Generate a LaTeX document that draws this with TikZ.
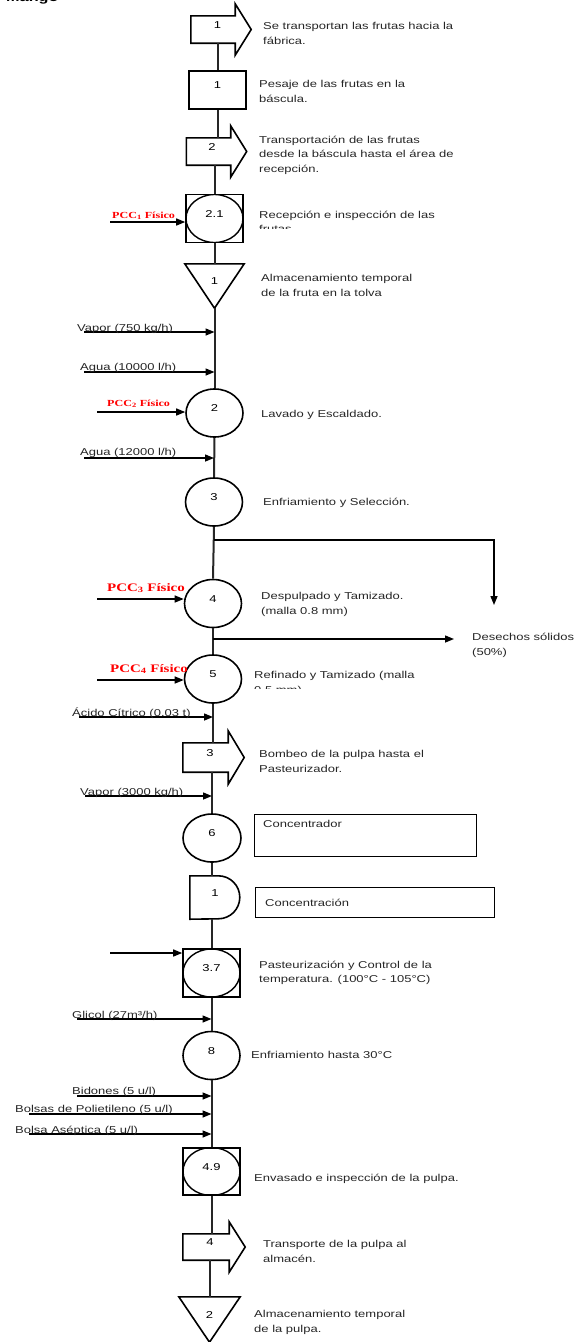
\documentclass[tikz,border=0pt]{standalone}
\usepackage{fontspec}
\setmainfont{Liberation Sans}[FakeStretch=1.3]
\newfontfamily\pccfont{Liberation Serif}[FakeStretch=1.3]
\usetikzlibrary{arrows.meta,shapes.geometric,calc}
\tikzset{
FLOW/.style ={draw=black!85,line width=2pt},
SHP/.style ={draw=black,line join=miter,line width=1.6pt},
INPUT/.style ={draw=black,line width=1.4pt,-{Triangle[length=9pt,width=7pt]}},
TXT/.style={anchor=north west,align=left,inner sep=0,yshift=-2pt,text=black!85},
INLBL/.style={anchor=base west,inner sep=0,text=black!85},
PCC/.style={anchor=base west,inner sep=0,text=red,font=\pccfont\bfseries\fontsize{#1}{#1}\selectfont},
NUM/.style={text height=7pt,text depth=10pt,inner sep=0},
OPER/.style={NUM,ellipse,SHP,minimum width=57pt,minimum height=48pt},
INSP/.style={NUM,rectangle,SHP,minimum width=57pt,minimum height=48pt,
  path picture={\draw[line width=1.4pt] (path picture bounding box.center) ellipse [x radius=28.5pt,y radius=24pt];}},
BODY/.style={NUM,rectangle,minimum width=44pt,minimum height=27pt},
STORE/.style={NUM,rectangle,minimum width=59pt,minimum height=44pt},
}
% transporte (flecha) y demora (D)
\newcommand{\transarrow}[1]{%
  \draw[SHP] (#1.north west) -- (#1.north east) -- ++(0,-12) -- ([xshift=16pt]#1.east)
    -- ([yshift=-12pt]#1.south east) -- (#1.south east) -- (#1.south west) -- cycle;}
\newcommand{\delayshape}[1]{%
  \draw[SHP] (#1.north west) -- ++(28.5,0) arc[start angle=-90,end angle=90,radius=21.5]
    -- (#1.south west) -- cycle;}
\newcommand{\storeshape}[1]{%
  \draw[SHP] (#1.north west) -- (#1.north east) -- (#1.south) -- cycle;}

\begin{document}
\begin{tikzpicture}[x=1pt,y=-1pt,every node/.style={font=\fontsize{10}{14.5}\selectfont}]
\useasboundingbox (0,0) rectangle (576,1342);
\node[anchor=base west,inner sep=0,font=\bfseries\fontsize{12.5}{12.5}\selectfont] (mango) at (6,1) {Mango};

% simbolos del diagrama
\node[BODY] (a1) at (213,29.5) {\hspace*{9pt}1};
\node[NUM,rectangle,SHP,minimum width=57pt,minimum height=38pt] (box1) at (217.5,90) {1};
\node[BODY] (a2) at (208.5,151.5) {\hspace*{7pt}2};
\node[INSP] (sq21) at (214.5,218.5) {2.1};
\node[STORE] (tri1) at (214.5,286) {1};
\node[OPER] (c2) at (214.5,413) {2};
\node[OPER] (c3) at (214,502) {3};
\node[OPER] (c4) at (213,603.5) {4};
\node[OPER] (c5) at (213,679) {5};
\node[BODY,minimum width=45pt,minimum height=29pt] (a3) at (205.5,757.5) {\hspace*{9pt}3};
\node[OPER,minimum width=58pt] (c6) at (212,838) {6};
\node[NUM,rectangle,minimum width=50pt,minimum height=43pt] (dly) at (215,897.5) {1};
\node[INSP] (sq37) at (211.5,973) {3.7};
\node[OPER] (c8) at (211.5,1055.5) {8};
\node[INSP,minimum height=47pt] (sq49) at (211.5,1171.5) {4.9};
\node[BODY,minimum width=46pt,minimum height=26pt] (a4) at (206,1247) {\hspace*{8pt}4};
\node[STORE,minimum width=61pt,minimum height=45pt] (tri2) at (209.5,1319.5) {2};

\transarrow{a1}
\transarrow{a2}
\transarrow{a3}
\transarrow{a4}
\delayshape{dly}
\storeshape{tri1}
\storeshape{tri2}

% linea principal
\draw[FLOW] (a1.south -| box1.north) -- (box1.north);
\draw[FLOW] (box1.south) -- (box1.south |- a2.north);
\draw[FLOW] (sq21.north |- a2.south) -- (sq21.north);
\draw[FLOW] (sq21.south) -- (tri1.north);
\draw[FLOW] (tri1.south) -- (c2.north);
\draw[FLOW] (c2.south) -- (c3.north);
\draw[FLOW] (c3.south) -- (c4.north);
\draw[FLOW] (c4.south) -- (c5.north);
\draw[FLOW] (c5.south) -- (c5.south |- a3.north);
\draw[FLOW] (c6.north |- a3.south) -- (c6.north);
\draw[FLOW] (c6.south) -- (c6.south |- dly.north);
\draw[FLOW] (sq37.north |- dly.south) -- (sq37.north);
\draw[FLOW] (sq37.south) -- (c8.north);
\draw[FLOW] (c8.south) -- (sq49.north);
\draw[FLOW] (sq49.south) -- (sq49.south |- a4.north);
\draw[FLOW] (tri2.north |- a4.south) -- (tri2.north);

% entradas
\coordinate (p1) at (110,222);
\draw[INPUT] (p1) -- (p1 -| sq21.west);
\node[PCC=9.3] (p1t) at ([xshift=2pt,yshift=4pt]p1) {PCC\textsubscript{1} Físico};
\coordinate (v1) at (84,332);
\draw[INPUT] (v1) -- (v1 -| c2.north);
\node[INLBL] (v1t) at ([xshift=-7pt,yshift=1pt]v1) {Vapor (750 kg/h)};
\coordinate (w1) at (84,372);
\draw[INPUT] (w1) -- (w1 -| c2.north);
\node[INLBL] (w1t) at ([xshift=-4pt,yshift=2pt]w1) {Agua (10000 l/h)};
\coordinate (p2) at (97,412);
\draw[INPUT] (p2) -- (p2 -| c2.west);
\node[PCC=9.3] (p2t) at ([xshift=10pt,yshift=6pt]p2) {PCC\textsubscript{2} Físico};
\coordinate (w2) at (84,458);
\draw[INPUT] (w2) -- (w2 -| c3.north);
\node[INLBL] (w2t) at ([xshift=-4pt,yshift=2.5pt]w2) {Agua (12000 l/h)};
\coordinate (p3) at (97,599);
\draw[INPUT] (p3) -- (p3 -| c4.west);
\node[PCC=11.5] (p3t) at ([xshift=10pt,yshift=8pt]p3) {PCC\textsubscript{3} Físico};
\coordinate (p4) at (97,680);
\draw[INPUT] (p4) -- (p4 -| c5.west);
\node[PCC=11.5] (p4t) at ([xshift=13pt,yshift=8pt]p4) {PCC\textsubscript{4} Físico};
\coordinate (ac) at (79,717);
\draw[INPUT] (ac) -- (ac -| c5.south);
\node[INLBL] (act) at ([xshift=-7pt,yshift=0.5pt]ac) {Ácido Cítrico (0.03 t)};
\coordinate (v2) at (85,796);
\draw[INPUT] (v2) -- (v2 -| c6.north);
\node[INLBL] (v2t) at ([xshift=-5pt,yshift=0.5pt]v2) {Vapor (3000 kg/h)};
\coordinate (p5) at (110,953);
\draw[INPUT] (p5) -- (p5 -| sq37.west);
\coordinate (gl) at (77,1019);
\draw[INPUT] (gl) -- (gl -| c8.north);
\node[INLBL] (glt) at ([xshift=-5pt,yshift=0.5pt]gl) {Glicol (27m³/h)};
\coordinate (bd) at (77,1096);
\draw[INPUT] (bd) -- (bd -| sq49.north);
\node[INLBL] (bdt) at ([xshift=-5pt,yshift=1.5pt]bd) {Bidones (5 u/l)};
\coordinate (bp) at (29,1114);
\draw[INPUT] (bp) -- (bp -| sq49.north);
\node[INLBL] (bpt) at ([xshift=-14pt,yshift=1.5pt]bp) {Bolsas de Polietileno (5 u/l)};
\coordinate (ba) at (29,1134);
\draw[INPUT] (ba) -- (ba -| sq49.north);
\node[INLBL] (bat) at ([xshift=-14pt,yshift=0.5pt]ba) {Bolsa Aséptica (5 u/l)};

% desechos
\coordinate (brA) at (214,540);
\coordinate (wst1) at (494,605);
\coordinate (wst2) at (454,639);
\draw[INPUT] (brA) -| (wst1);
\draw[INPUT] (c4.south |- wst2) -- (wst2);
\node[TXT] (des) at (472,631) {Desechos sólidos\\(50\%)};

% descripciones
\node[TXT] (t1) at (263,20.5) {Se transportan las frutas hacia la\\fábrica.};
\node[TXT] (t2) at (259,78.5) {Pesaje de las frutas en la\\báscula.};
\node[TXT] (t3) at (259,133.5) {Transportación de las frutas\\desde la báscula hasta el área de\\recepción.};
\begin{scope}
\clip (250,200) rectangle (470,228);
\node[TXT] (t4) at (259,208.5) {Recepción e inspección de las\\frutas};
\end{scope}
\node[TXT] (t5) at (261,272.5) {Almacenamiento temporal\\de la fruta en la tolva};
\node[TXT] (t6) at (261,408.5) {Lavado y Escaldado.};
\node[TXT] (t7) at (263,495.5) {Enfriamiento y Selección.};
\node[TXT] (t8) at (261,590.5) {Despulpado y Tamizado.\\(malla 0.8 mm)};
\begin{scope}
\clip (250,660) rectangle (470,688);
\node[TXT] (t9) at (254,669.5) {Refinado y Tamizado (malla\\0.5 mm)};
\end{scope}
\node[TXT] (t10) at (259,748.5) {Bombeo de la pulpa hasta el\\Pasteurizador.};
\node[draw,line width=1.4pt,inner sep=0,anchor=north west,minimum width=222pt,minimum height=42pt] (conc) at (254,814) {};
\node[TXT] (conct) at ([xshift=9pt,yshift=-4.5pt]conc.north west) {Concentrador};
\node[draw,line width=1.4pt,inner sep=0,anchor=north west,minimum width=239pt,minimum height=30pt] (concn) at (255,887) {};
\node[TXT,anchor=west] (concnt) at ([xshift=10pt,yshift=2pt]concn.west) {Concentración};
\node[TXT] (t11) at (259,958.5) {Pasteurización y Control de la\\temperatura. (100°C - 105°C)};
\node[TXT] (t12) at (251,1049.5) {Enfriamiento hasta 30°C};
\node[TXT] (t13) at (254,1171.5) {Envasado e inspección de la pulpa.};
\node[TXT] (t14) at (263,1238.5) {Transporte de la pulpa al\\almacén.};
\node[TXT] (t15) at (254,1308.5) {Almacenamiento temporal\\de la pulpa.};
\end{tikzpicture}
\end{document}
